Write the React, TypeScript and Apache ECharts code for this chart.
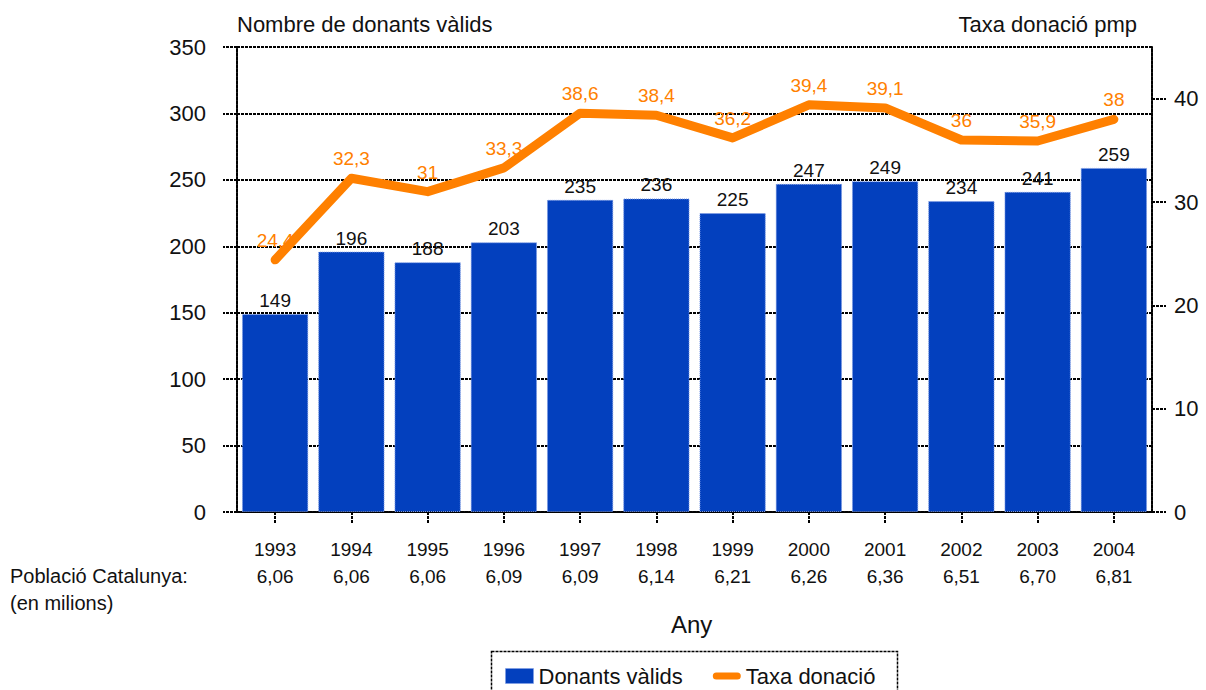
import React, { useEffect, useRef } from "react";
import * as echarts from "echarts";

const years = ["1993", "1994", "1995", "1996", "1997", "1998", "1999", "2000", "2001", "2002", "2003", "2004"];
const population = ["6,06", "6,06", "6,06", "6,09", "6,09", "6,14", "6,21", "6,26", "6,36", "6,51", "6,70", "6,81"];
const donors = [149, 196, 188, 203, 235, 236, 225, 247, 249, 234, 241, 259];
const rate = [24.4, 32.3, 31, 33.3, 38.6, 38.4, 36.2, 39.4, 39.1, 36, 35.9, 38];
const leftTicks = [0, 50, 100, 150, 200, 250, 300, 350];
const rightTicks = [0, 10, 20, 30, 40];

const FONT = "'Liberation Sans', Arial, sans-serif";
const BLUE = "#0340BE";
const ORANGE = "#FF8000";
const DASH: number[] = [3, 1];

export default function App() {
  const ref = useRef<HTMLDivElement>(null);
  useEffect(() => {
    document.body.style.margin = "0";
    if (!ref.current) return;
    const chart = echarts.init(ref.current, null, { renderer: "svg" });
    const categories = years.map((y, i) => `${y}\n${population[i]}`);
    chart.setOption({
      animation: false,
      textStyle: { fontFamily: FONT },
      grid: { left: 237, right: 54, top: 47, bottom: 178, containLabel: false },
      legend: {
        left: 500,
        top: 660,
        itemGap: 30,
        itemWidth: 28,
        itemHeight: 15,
        textStyle: { fontFamily: FONT, fontSize: 22, color: "#111" },
        data: [
          { name: "Donants vàlids", icon: "rect", itemStyle: { borderColor: "#7f9ce6", borderWidth: 1, borderType: "dotted" } },
          { name: "Taxa donació", icon: "path://M4,0 L28,0 A4,4 0 0 1 28,8 L4,8 A4,4 0 0 1 4,0 Z" },
        ],
      },
      graphic: [
        {
          type: "rect",
          shape: { x: 491.5, y: 651.5, width: 406, height: 45 },
          style: { fill: "none", stroke: "#000", lineWidth: 1.5, lineDash: DASH },
          silent: true,
        },
        { type: "text", left: 237, top: 13, style: { text: "Nombre de donants vàlids", font: `22px ${FONT}`, fill: "#111" } },
        { type: "text", right: 69, top: 13, style: { text: "Taxa donació pmp", font: `22px ${FONT}`, fill: "#111", align: "right" } },
        { type: "text", left: 10, top: 566, style: { text: "Població Catalunya:", font: `20px ${FONT}`, fill: "#111" } },
        { type: "text", left: 10, top: 593, style: { text: "(en milions)", font: `20px ${FONT}`, fill: "#111" } },
        { type: "text", left: 671, top: 612, style: { text: "Any", font: `24px ${FONT}`, fill: "#111" } },
      ],
      xAxis: {
        type: "category",
        data: categories,
        axisLine: { show: true, lineStyle: { color: "#000", width: 2, type: DASH } },
        axisTick: { show: true, alignWithLabel: true, length: 12, lineStyle: { color: "#000", width: 2, type: DASH } },
        axisLabel: { fontFamily: FONT, fontSize: 19, color: "#111", lineHeight: 27, margin: 24 },
        splitLine: { show: false },
      },
      yAxis: [
        {
          type: "value",
          min: leftTicks[0],
          max: leftTicks[leftTicks.length - 1],
          interval: 50,
          position: "left",
          axisLine: { show: true, lineStyle: { color: "#000", width: 2, type: DASH } },
          axisTick: { show: true, length: 14, lineStyle: { color: "#000", width: 2, type: DASH } },
          axisLabel: { fontFamily: FONT, fontSize: 22, color: "#111", margin: 31 },
          splitLine: { show: true, lineStyle: { color: "#000", width: 1.8, type: DASH } },
        },
        {
          type: "value",
          min: rightTicks[0],
          max: 45,
          interval: 10,
          position: "right",
          axisLine: { show: true, lineStyle: { color: "#000", width: 2, type: DASH } },
          axisTick: { show: true, length: 14, lineStyle: { color: "#000", width: 2, type: DASH } },
          axisLabel: { fontFamily: FONT, fontSize: 22, color: "#111", margin: 22, showMaxLabel: false },
          splitLine: { show: false },
        },
      ],
      series: [
        {
          name: "Donants vàlids",
          type: "bar",
          data: donors,
          yAxisIndex: 0,
          barCategoryGap: "13%",
          itemStyle: { color: BLUE, borderColor: "#7f9ce6", borderWidth: 1, borderType: "dotted" },
          label: { show: true, position: "top", distance: 4, fontFamily: FONT, fontSize: 19, color: "#111" },
          z: 2,
        },
        {
          name: "Taxa donació",
          type: "line",
          data: rate,
          yAxisIndex: 1,
          symbol: "circle",
          symbolSize: 2,
          showSymbol: true,
          lineStyle: { color: ORANGE, width: 9, cap: "round", join: "round" },
          itemStyle: { color: ORANGE },
          label: {
            show: true,
            position: "top",
            distance: 9,
            fontFamily: FONT,
            fontSize: 19,
            color: ORANGE,
            formatter: (p: any) => String(p.value).replace(".", ","),
          },
          z: 3,
        },
      ],
    });
    return () => chart.dispose();
  }, []);
  return <div ref={ref} style={{ width: 1206, height: 690 }} />;
}
